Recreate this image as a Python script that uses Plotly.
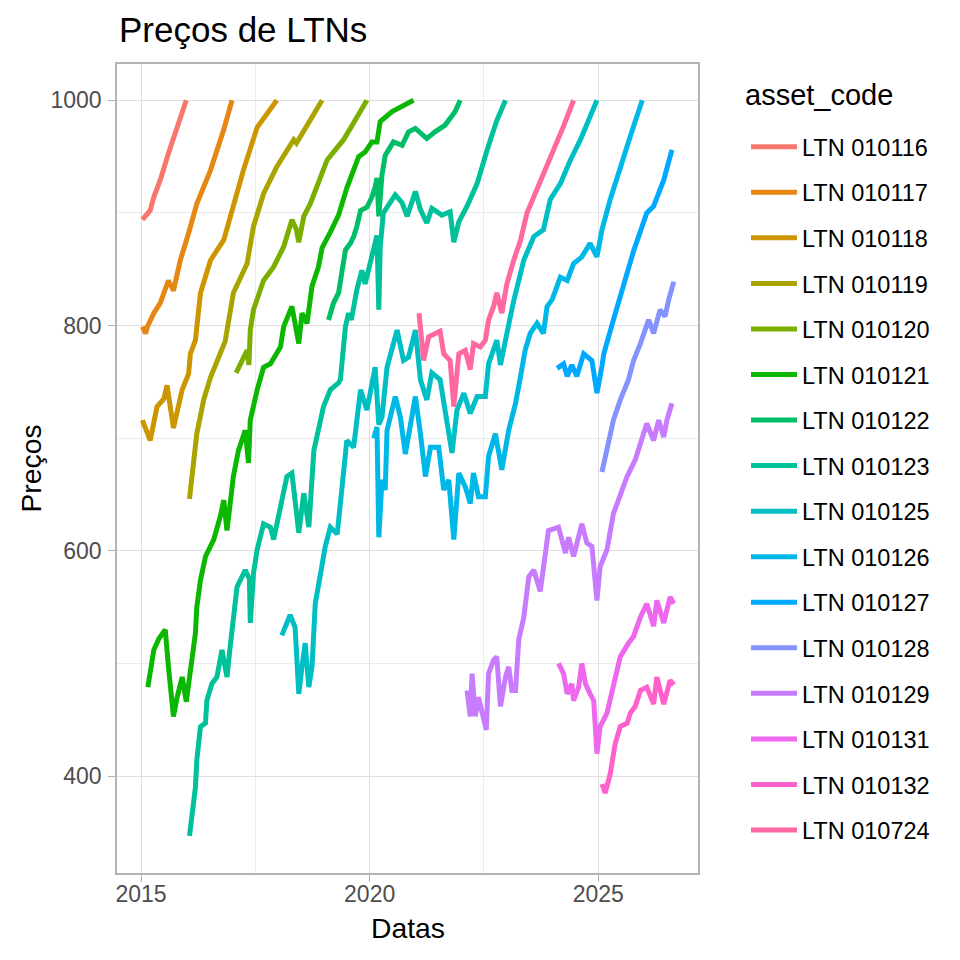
import plotly.graph_objects as go

# ---------------- data (decimal years, prices) ----------------
asset_codes = ["LTN 010116", "LTN 010117", "LTN 010118", "LTN 010119", "LTN 010120",
               "LTN 010121", "LTN 010122", "LTN 010123", "LTN 010125", "LTN 010126",
               "LTN 010127", "LTN 010128", "LTN 010129", "LTN 010131", "LTN 010132",
               "LTN 010724"]

colors = ["#F8766D", "#E68613", "#CD9600", "#ABA300", "#7CAE00", "#0CB702",
          "#00BE67", "#00C19A", "#00BFC4", "#00B8E7", "#00A9FF", "#8494FF",
          "#C77CFF", "#ED68ED", "#FF61CC", "#FF68A1"]

ltn_010116_x = [2015.03, 2015.1, 2015.2, 2015.28, 2015.42, 2015.6, 2015.79, 2015.99]
ltn_010116_y = [894, 897, 902, 914, 929, 953, 976, 1000]

ltn_010117_x = [2015.03, 2015.1, 2015.15, 2015.28, 2015.42, 2015.55, 2015.6, 2015.71, 2015.86,
                2016.04, 2016.22, 2016.52, 2016.81, 2016.99]
ltn_010117_y = [799, 793, 800, 811, 820, 836, 840, 831, 858, 882, 908, 938, 974, 1000]

ltn_010118_x = [2015.03, 2015.2, 2015.35, 2015.5, 2015.57, 2015.71, 2015.9, 2016.04, 2016.08,
                2016.19, 2016.3, 2016.52, 2016.81, 2017.02, 2017.24, 2017.54, 2017.97]
ltn_010118_y = [716, 698, 728, 735, 747, 709, 743, 757, 775, 787, 829, 858, 876, 908, 938, 976, 1000]

ltn_010119_x = [2016.06, 2016.11, 2016.22, 2016.37, 2016.52, 2016.73, 2016.84, 2017.02, 2017.32,
                2017.46, 2017.68, 2017.97, 2018.34, 2018.4, 2018.7, 2018.96]
ltn_010119_y = [646, 666, 704, 734, 754, 775, 786, 829, 855, 888, 917, 941, 965, 962, 982, 1000]

ltn_010120_x = [2017.08, 2017.32, 2017.36, 2017.39, 2017.46, 2017.68, 2017.9, 2018.12, 2018.3,
                2018.4, 2018.45, 2018.56, 2018.7, 2018.85, 2019.07, 2019.43, 2019.94]
ltn_010120_y = [758, 778, 765, 796, 814, 840, 852, 870, 894, 885, 874, 897, 908, 923, 947, 965, 1000]

ltn_010121_x = [2015.15, 2015.2, 2015.28, 2015.39, 2015.53, 2015.6, 2015.71, 2015.79, 2015.9,
                2015.99, 2016.08, 2016.19, 2016.22, 2016.3, 2016.41, 2016.59, 2016.73, 2016.81,
                2016.88, 2017.02, 2017.13, 2017.28, 2017.35, 2017.39, 2017.54, 2017.68, 2017.83,
                2018.05, 2018.12, 2018.3, 2018.45, 2018.52, 2018.63, 2018.74, 2018.88, 2018.96,
                2019.14, 2019.32, 2019.5, 2019.61, 2019.76, 2019.9, 2020.05, 2020.16, 2020.2,
                2020.23, 2020.49, 2020.74, 2020.96]
ltn_010121_y = [479, 491, 512, 522, 530, 497, 453, 470, 488, 466, 494, 527, 550, 574, 595, 610,
                630, 645, 618, 666, 689, 707, 678, 716, 743, 763, 766, 781, 799, 817, 784, 811,
                802, 835, 852, 869, 883, 898, 922, 934, 950, 954, 963, 963, 972, 981, 990, 996, 1000]

ltn_010122_x = [2019.1, 2019.21, 2019.32, 2019.39, 2019.47, 2019.58, 2019.65, 2019.72, 2019.8,
                2019.94, 2020.05, 2020.12, 2020.16, 2020.2, 2020.27, 2020.34, 2020.52, 2020.71,
                2020.85, 2021.0, 2021.15, 2021.25, 2021.43, 2021.65, 2021.87, 2021.98]
ltn_010122_y = [805, 820, 829, 846, 867, 873, 879, 888, 902, 905, 914, 923, 931, 897, 934, 951,
                963, 960, 972, 975, 969, 966, 972, 978, 990, 1000]

ltn_010123_x = [2016.06, 2016.11, 2016.19, 2016.22, 2016.3, 2016.41, 2016.44, 2016.55, 2016.66,
                2016.77, 2016.88, 2016.95, 2017.0, 2017.05, 2017.1, 2017.28, 2017.37, 2017.39,
                2017.46, 2017.54, 2017.68, 2017.83, 2017.9, 2018.05, 2018.19, 2018.3, 2018.37,
                2018.45, 2018.56, 2018.67, 2018.78, 2018.88, 2018.99, 2019.14, 2019.32, 2019.36,
                2019.47, 2019.54, 2019.6, 2019.72, 2019.83, 2019.9, 2020.01, 2020.09, 2020.16,
                2020.2, 2020.23, 2020.3, 2020.41, 2020.56, 2020.71, 2020.82, 2021.0, 2021.11,
                2021.25, 2021.36, 2021.58, 2021.76, 2021.84, 2021.95, 2022.13, 2022.35, 2022.57,
                2022.78, 2022.97]
ltn_010123_y = [347, 367, 390, 414, 444, 447, 467, 482, 488, 512, 488, 515, 535, 552, 568, 583,
                575, 536, 580, 601, 624, 621, 610, 639, 666, 669, 645, 616, 651, 621, 689, 707,
                728, 743, 749, 752, 799, 811, 805, 832, 849, 837, 855, 867, 880, 814, 870, 900,
                906, 916, 909, 897, 919, 903, 891, 904, 898, 901, 874, 892, 906, 926, 956, 982, 1000]

ltn_010125_x = [2018.08, 2018.19, 2018.26, 2018.37, 2018.45, 2018.52, 2018.59, 2018.67, 2018.74,
                2018.81, 2018.92, 2019.03, 2019.14, 2019.29, 2019.39, 2019.5, 2019.65, 2019.8,
                2019.94, 2020.12, 2020.2, 2020.27, 2020.38, 2020.6, 2020.74, 2020.85, 2021.0,
                2021.11, 2021.25, 2021.36, 2021.54, 2021.65, 2021.8, 2021.91, 2022.06, 2022.2,
                2022.35, 2022.53, 2022.6, 2022.78, 2022.86, 2023.0, 2023.15, 2023.37, 2023.59,
                2023.8, 2023.95, 2024.17, 2024.39, 2024.61, 2024.79, 2024.97]
ltn_010125_y = [525, 538, 543, 532, 473, 497, 518, 479, 497, 553, 580, 604, 621, 615, 654, 698,
                692, 743, 725, 763, 712, 719, 763, 796, 769, 772, 796, 752, 734, 758, 752, 725,
                687, 725, 740, 722, 737, 737, 766, 787, 765, 793, 822, 858, 879, 885, 912, 926,
                947, 965, 982, 1000]

ltn_010126_x = [2020.09, 2020.16, 2020.2, 2020.27, 2020.34, 2020.38, 2020.56, 2020.67, 2020.78,
                2020.89, 2021.0, 2021.11, 2021.22, 2021.33, 2021.51, 2021.62, 2021.73, 2021.84,
                2021.95, 2022.09, 2022.2, 2022.27, 2022.38, 2022.53, 2022.6, 2022.75, 2022.89,
                2023.04, 2023.19, 2023.3, 2023.4, 2023.51, 2023.66, 2023.8, 2023.88, 2023.99,
                2024.17, 2024.32, 2024.46, 2024.64, 2024.82, 2024.97, 2025.08, 2025.26, 2025.48,
                2025.7, 2025.96]
ltn_010126_y = [700, 710, 612, 663, 654, 707, 737, 719, 686, 710, 737, 704, 666, 692, 692, 654,
                663, 610, 669, 657, 642, 669, 648, 648, 684, 704, 672, 707, 731, 755, 778, 793,
                802, 793, 817, 823, 843, 840, 855, 861, 873, 861, 885, 912, 941, 968, 1000]

ltn_010127_x = [2024.1, 2024.24, 2024.32, 2024.42, 2024.53, 2024.68, 2024.86, 2024.97, 2025.08,
                2025.12, 2025.33, 2025.55, 2025.77, 2026.06, 2026.21, 2026.43, 2026.61]
ltn_010127_y = [762, 766, 755, 765, 755, 775, 769, 740, 764, 775, 805, 835, 866, 900, 906, 929, 956]

ltn_010128_x = [2025.08, 2025.19, 2025.33, 2025.48, 2025.66, 2025.77, 2025.92, 2026.1, 2026.21,
                2026.35, 2026.46, 2026.54, 2026.65]
ltn_010128_y = [670, 692, 716, 734, 752, 769, 784, 805, 793, 814, 808, 823, 839]

ltn_010129_x = [2022.13, 2022.2, 2022.24, 2022.31, 2022.38, 2022.49, 2022.55, 2022.6, 2022.71,
                2022.78, 2022.86, 2022.97, 2023.04, 2023.11, 2023.19, 2023.26, 2023.37, 2023.48,
                2023.59, 2023.73, 2023.91, 2024.13, 2024.28, 2024.35, 2024.46, 2024.64, 2024.75,
                2024.86, 2024.97, 2025.04, 2025.19, 2025.33, 2025.48, 2025.63, 2025.81, 2025.92,
                2026.06, 2026.21, 2026.32, 2026.43, 2026.5, 2026.61]
ltn_010129_y = [476, 453, 491, 453, 470, 450, 441, 491, 503, 506, 462, 488, 497, 476, 476, 521,
                541, 577, 583, 564, 618, 621, 598, 612, 595, 624, 607, 604, 556, 586, 601, 633,
                651, 666, 681, 695, 713, 698, 716, 701, 716, 731]

ltn_010131_x = [2024.13, 2024.24, 2024.32, 2024.42, 2024.46, 2024.57, 2024.64, 2024.72, 2024.82,
                2024.9, 2024.97, 2025.04, 2025.19, 2025.33, 2025.48, 2025.66, 2025.77, 2025.92,
                2026.06, 2026.21, 2026.28, 2026.43, 2026.57, 2026.65]
ltn_010131_y = [500, 491, 473, 482, 467, 479, 500, 482, 473, 467, 420, 444, 456, 482, 506, 518,
                524, 541, 553, 533, 556, 536, 559, 553]

ltn_010132_x = [2025.08, 2025.15, 2025.26, 2025.37, 2025.48, 2025.63, 2025.7, 2025.81, 2025.92,
                2026.06, 2026.21, 2026.28, 2026.43, 2026.57, 2026.65]
ltn_010132_y = [393, 385, 402, 429, 444, 447, 456, 462, 476, 479, 464, 488, 464, 485, 481]

ltn_010724_x = [2021.08, 2021.18, 2021.29, 2021.42, 2021.54, 2021.62, 2021.76, 2021.84, 2021.95,
                2022.09, 2022.2, 2022.27, 2022.42, 2022.53, 2022.6, 2022.71, 2022.78, 2022.89,
                2023.0, 2023.15, 2023.3, 2023.44, 2023.59, 2023.8, 2024.02, 2024.24, 2024.46]
ltn_010724_y = [811, 769, 790, 792, 795, 775, 769, 728, 775, 778, 761, 784, 781, 787, 805, 817,
                829, 811, 837, 858, 876, 900, 914, 935, 956, 977, 1000]

x_tick_vals = [2015, 2020, 2025]
x_tick_text = ["2015", "2020", "2025"]
x_minor_vals = [2017.5, 2022.5]
y_tick_vals = [400, 600, 800, 1000]
y_minor_vals = [500, 700, 900]

series_x = [ltn_010116_x, ltn_010117_x, ltn_010118_x, ltn_010119_x, ltn_010120_x, ltn_010121_x,
            ltn_010122_x, ltn_010123_x, ltn_010125_x, ltn_010126_x, ltn_010127_x, ltn_010128_x,
            ltn_010129_x, ltn_010131_x, ltn_010132_x, ltn_010724_x]
series_y = [ltn_010116_y, ltn_010117_y, ltn_010118_y, ltn_010119_y, ltn_010120_y, ltn_010121_y,
            ltn_010122_y, ltn_010123_y, ltn_010125_y, ltn_010126_y, ltn_010127_y, ltn_010128_y,
            ltn_010129_y, ltn_010131_y, ltn_010132_y, ltn_010724_y]

# ---------------- figure ----------------
FONT = "Liberation Sans, Arial, Helvetica, sans-serif"
fig = go.Figure()
for name, xs, ys, col in zip(asset_codes, series_x, series_y, colors):
    fig.add_trace(go.Scatter(x=xs, y=ys, mode="lines", name=name, legendgroup=name,
                             line=dict(color=col, width=5)))

axis_common = dict(showline=True, mirror=True, linecolor="#B3B3B3", linewidth=1.5,
                   ticks="outside", ticklen=7, tickwidth=1.3, tickcolor="#B3B3B3",
                   showgrid=True, gridcolor="#DEDEDE", gridwidth=1.3, zeroline=False,
                   tickfont=dict(family=FONT, size=23, color="#4D4D4D"))

fig.update_xaxes(range=[2014.475, 2027.18], tickmode="array", tickvals=x_tick_vals,
                 ticktext=x_tick_text, ticklabelstandoff=-7,
                 minor=dict(tickmode="array", tickvals=x_minor_vals, showgrid=True,
                            gridcolor="#EBEBEB", gridwidth=0.8, ticks=""),
                 **axis_common)
fig.update_yaxes(range=[314, 1032.2], tickmode="array", tickvals=y_tick_vals,
                 ticklabelstandoff=2,
                 minor=dict(tickmode="array", tickvals=y_minor_vals, showgrid=True,
                            gridcolor="#EBEBEB", gridwidth=0.8, ticks=""),
                 **axis_common)

fig.update_layout(
    width=960, height=960,
    margin=dict(l=109, r=270, t=56, b=95, autoexpand=False),
    plot_bgcolor="white", paper_bgcolor="white",
    font=dict(family=FONT, color="black"),
    showlegend=True,
    legend=dict(font=dict(family=FONT, size=23.5, color="black"),
                x=1.0826, xanchor="left", y=0.9246, yanchor="top",
                itemwidth=46, tracegroupgap=12, bgcolor="rgba(0,0,0,0)"),
    annotations=[
        dict(text="Preços de LTNs", xref="paper", yref="paper", x=0, y=1.0427,
             xanchor="left", yanchor="middle", showarrow=False,
             font=dict(family=FONT, size=35, color="black")),
        dict(text="asset_code", xref="paper", yref="paper", x=1.0775, y=0.9617,
             xanchor="left", yanchor="middle", showarrow=False,
             font=dict(family=FONT, size=29, color="black")),
        dict(text="Datas", xref="paper", yref="paper", x=0.5, y=-0.0684,
             xanchor="center", yanchor="middle", showarrow=False,
             font=dict(family=FONT, size=28.3, color="black")),
        dict(text="Preços", xref="paper", yref="paper", x=-0.1497, y=0.5,
             xanchor="center", yanchor="middle", showarrow=False, textangle=-90,
             font=dict(family=FONT, size=28.3, color="black")),
    ],
)

fig.write_html("out.html")
